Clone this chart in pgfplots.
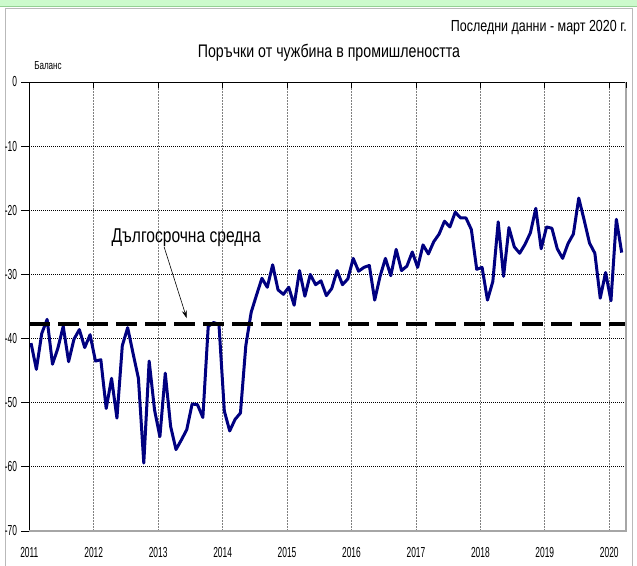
\documentclass[border=0pt]{standalone}
\usepackage{fontspec}
\setmainfont{Liberation Sans}[FakeStretch=0.78]
\newfontfamily\narrowfont{Liberation Sans}[FakeStretch=0.58]
\newfontfamily\midfont{Liberation Sans}[FakeStretch=0.7]
\usepackage{pgfplots}
\pgfplotsset{compat=1.18}
\usepackage{pgfplotstable}
\usetikzlibrary{arrows.meta}
\definecolor{navyline}{RGB}{0,0,128}
\definecolor{bandgreen}{RGB}{204,250,204}

\pgfplotstableread{
m v
0 -40.7
1 -44.8
2 -39.2
3 -37.0
4 -44.0
5 -41.5
6 -38.1
7 -43.6
8 -40.1
9 -38.6
10 -41.4
11 -39.4
12 -43.5
13 -43.3
14 -50.9
15 -46.2
16 -52.4
17 -41.1
18 -38.3
19 -42.3
20 -46.2
21 -59.4
22 -43.5
23 -51.1
24 -55.3
25 -45.4
26 -53.7
27 -57.3
28 -55.8
29 -54.2
30 -50.2
31 -50.3
32 -52.3
33 -38.1
34 -37.5
35 -37.8
36 -51.3
37 -54.4
38 -52.6
39 -51.6
40 -41.1
41 -35.9
42 -33.2
43 -30.6
44 -32.0
45 -28.5
46 -32.4
47 -33.1
48 -32.0
49 -34.8
50 -29.4
51 -33.4
52 -30.0
53 -31.6
54 -31.0
55 -33.3
56 -32.2
57 -29.4
58 -31.6
59 -30.7
60 -27.5
61 -29.5
62 -28.9
63 -28.6
64 -34.0
65 -30.3
66 -27.5
67 -30.2
68 -26.1
69 -29.4
70 -28.7
71 -26.5
72 -28.9
73 -25.4
74 -26.8
75 -24.9
76 -23.7
77 -21.7
78 -22.6
79 -20.3
80 -21.2
81 -21.2
82 -23.0
83 -29.2
84 -28.9
85 -34.0
86 -31.1
87 -21.8
88 -30.3
89 -22.7
90 -25.7
91 -26.7
92 -25.3
93 -23.5
94 -19.7
95 -26.0
96 -22.6
97 -22.8
98 -26.0
99 -27.5
100 -25.2
101 -23.7
102 -18.1
103 -21.5
104 -25.1
105 -26.7
106 -33.7
107 -29.7
108 -34.1
109 -21.4
110 -26.6
}\datatable

\begin{document}
\begin{tikzpicture}[x=1pt,y=1pt]
\useasboundingbox (0,0) rectangle (637,565);
\fill[bandgreen] (0,559) rectangle (637,565);
\draw[green!40!gray!60, line width=0.6pt] (0,559) -- (637,559);
\draw[gray!55, line width=1pt] (5,-5) -- (5,556) -- (632,556) -- (632,-5);
\node[font=\fontsize{18.2}{20}\selectfont] at (329,512) {Поръчки от чужбина в промишлеността};
\node[anchor=east, inner sep=0pt, font=\fontsize{16}{18}\selectfont] at (627,537) {Последни данни - март 2020 г.};
\node[font=\midfont\fontsize{11.5}{12}\selectfont] at (48,499) {Баланс};
\begin{axis}[
  at={(29.3pt,34pt)}, anchor=south west,
  scale only axis, width=596.7pt, height=449pt,
  xmin=-0.32, xmax=110.8, ymin=-70, ymax=0,
  axis line style={draw=none},
  xtick={-0.32,11.68,23.68,35.68,47.68,59.68,71.68,83.68,95.68,107.68},
  xticklabels={2011,2012,2013,2014,2015,2016,2017,2018,2019,2020},
  ytick={-70,-60,-50,-40,-30,-20,-10,0},
  yticklabels={-70,-60,-50,-40,-30,-20,-10,0},
  xtick pos=left, ytick pos=left,
  tick align=outside,
  major tick length=8pt,
  x tick style={draw=none},
  y tick style={black, line width=0.8pt},
  xmajorgrids, ymajorgrids,
  x grid style={gray, line width=0.8pt, dash pattern=on 2pt off 1pt},
  y grid style={black, line width=0.8pt, dash pattern=on 1pt off 1pt},
  xticklabel style={font=\narrowfont\fontsize{14.5}{15}\selectfont, inner sep=0pt, anchor=north, yshift=-8.5pt},
  yticklabel style={font=\narrowfont\fontsize{14.5}{15}\selectfont, inner sep=0pt, anchor=east, xshift=-4pt},
  clip=false,
]
\addplot[navyline, line width=3pt, line join=round] table[x=m, y=v] {\datatable};
\addplot[black, line width=4pt, dash pattern=on 21pt off 8pt] coordinates {(-0.32,-37.8) (110.8,-37.8)};
\draw[black, line width=1pt] (axis cs:-0.32,-70) -- (axis cs:-0.32,0) -- (axis cs:110.8,0);
\draw[gray!70, line width=1.5pt] (axis cs:-0.32,-70) -- (axis cs:110.8,-70) -- (axis cs:110.8,0);
\pgfplotsinvokeforeach{11.68,23.68,35.68,47.68,59.68,71.68,83.68,95.68,107.68,110.8}{
  \draw[black, line width=0.8pt] (axis cs:#1,0) -- ([yshift=-6pt]axis cs:#1,0);
}
\node[font=\fontsize{20}{22}\selectfont] at (axis cs:28.9,-24.35) {Дългосрочна средна};
\draw[-{Stealth[length=8pt,width=5pt]}, line width=0.6pt] (axis cs:24.8,-25.75) -- (axis cs:29.0,-36.84);
\end{axis}
\end{tikzpicture}
\end{document}
